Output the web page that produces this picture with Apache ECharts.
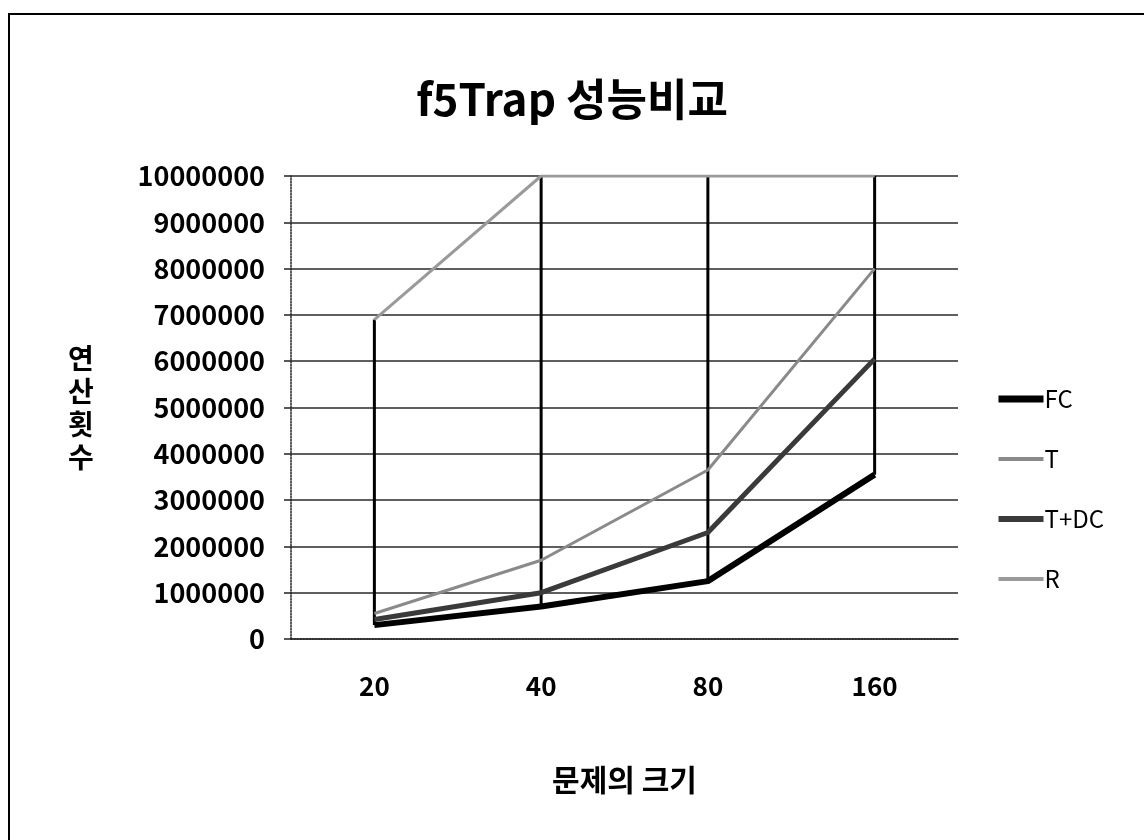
<!DOCTYPE html>
<html>
<head>
<meta charset="utf-8">
<script src="https://cdn.jsdelivr.net/npm/echarts@6/dist/echarts.min.js"></script>
<style>
  html, body { margin: 0; padding: 0; background: #fff; }
  #chart { width: 1144px; height: 840px; }
</style>
</head>
<body>
<div id="chart"></div>
<script>
// 문제의 크기
const categories = ["20", "40", "80", "160"];

// 연산횟수 (R은 40 이후 축 최대값에 걸림)
const fcValues = [300000, 700000, 1250000, 3550000];
const tValues = [550000, 1700000, 3650000, 8000000];
const tdcValues = [420000, 1000000, 2300000, 6050000];
const rValues = [6900000, 10000000, 10000000, 10000000];

const seriesNames = ["FC", "T", "T+DC", "R"];

const font = "'Noto Sans CJK KR', 'Noto Sans', sans-serif";

// high-low lines: min ~ max of all series per category
const allSeries = [fcValues, tValues, tdcValues, rValues];
const highLow = categories.map((c, i) => {
  const vals = allSeries.map((s) => s[i]);
  return [i, Math.min(...vals), Math.max(...vals)];
});

const styles = {
  FC: { color: "#000", width: 6 },
  T: { color: "#8a8a8a", width: 3 },
  "T+DC": { color: "#3a3a3a", width: 5 },
  R: { color: "#9a9a9a", width: 3 },
};

const chart = echarts.init(document.getElementById("chart"));
chart.setOption({
  animation: false,
  backgroundColor: "#fff",
  title: {
    text: "f5Trap 성능비교",
    left: "center",
    top: 72,
    textStyle: { fontFamily: font, fontSize: 44, fontWeight: "bold", color: "#000" },
  },
  legend: {
    orient: "vertical",
    left: 990,
    top: 382,
    itemWidth: 45,
    itemHeight: 20,
    itemGap: 36,
    itemStyle: { opacity: 0 },
    data: seriesNames.map((n) => ({
      name: n,
      lineStyle: { color: styles[n].color, width: styles[n].width + 1 },
    })),
    textStyle: { fontFamily: font, fontSize: 24, lineHeight: 20, color: "#000", padding: [0, 0, 0, -4] },
  },
  grid: {
    left: 291,
    right: 186,
    top: 176,
    bottom: 201,
  },
  xAxis: {
    type: "category",
    data: categories,
    boundaryGap: true,
    name: "문제의 크기",
    nameLocation: "middle",
    nameGap: 126,
    nameTextStyle: { fontFamily: font, fontSize: 30, fontWeight: "bold", color: "#000" },
    axisLine: { show: true, lineStyle: { color: "#222", width: 1.5, type: "dotted" } },
    axisTick: { show: false },
    axisLabel: { margin: 34, fontFamily: font, fontSize: 26, fontWeight: "bold", color: "#000" },
  },
  yAxis: {
    type: "value",
    min: 0,
    max: 10000000,
    interval: 1000000,
    name: "연\n산\n횟\n수",
    nameLocation: "middle",
    nameRotate: 0,
    nameGap: 210,
    nameTextStyle: {
      fontFamily: font, fontSize: 28, fontWeight: "bold", color: "#000",
      align: "center", lineHeight: 33, padding: [0, 0, 24, 0],
    },
    axisLine: { show: true, lineStyle: { color: "#222", width: 1.5, type: "dotted" } },
    axisTick: { show: true, length: 7, lineStyle: { color: "#222", width: 1.5 } },
    axisLabel: {
      margin: 26, fontFamily: font, fontSize: 27, fontWeight: "bold", color: "#000",
      formatter: (v) => String(v),
    },
    splitLine: { show: true, lineStyle: { color: "#2a2a2a", width: 1.5 } },
  },
  series: [
    {
      name: "hilo",
      type: "custom",
      data: highLow,
      z: 1,
      renderItem: (params, api) => {
        const p1 = api.coord([api.value(0), api.value(1)]);
        const p2 = api.coord([api.value(0), api.value(2)]);
        return {
          type: "line",
          shape: { x1: p1[0], y1: p1[1], x2: p2[0], y2: p2[1] },
          style: { stroke: "#000", lineWidth: 3 },
        };
      },
    },
    {
      name: "FC",
      type: "line",
      data: fcValues,
      symbol: "none",
      z: 5,
      lineStyle: styles.FC,
      itemStyle: { color: styles.FC.color },
    },
    {
      name: "T",
      type: "line",
      data: tValues,
      symbol: "none",
      z: 3,
      lineStyle: styles.T,
      itemStyle: { color: styles.T.color },
    },
    {
      name: "T+DC",
      type: "line",
      data: tdcValues,
      symbol: "none",
      z: 4,
      lineStyle: styles["T+DC"],
      itemStyle: { color: styles["T+DC"].color },
    },
    {
      name: "R",
      type: "line",
      data: rValues,
      symbol: "none",
      z: 3,
      lineStyle: styles.R,
      itemStyle: { color: styles.R.color },
    },
  ],
  graphic: [
    {
      type: "rect",
      shape: { x: 9, y: 14, width: 1150, height: 840 },
      style: { fill: "none", stroke: "#000", lineWidth: 2 },
      silent: true,
    },
  ],
});
</script>
</body>
</html>
